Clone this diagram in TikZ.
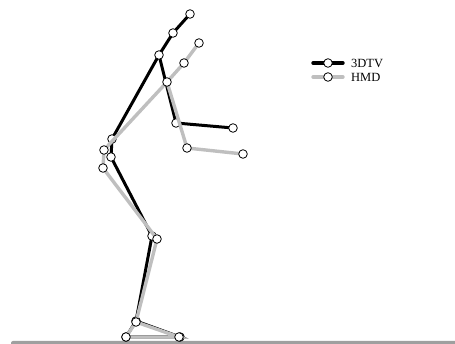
\documentclass[tikz,border=0pt]{standalone}
\usepackage{fontspec}
\setmainfont{Liberation Serif}
\begin{document}
\begin{tikzpicture}[x=1pt,y=-1pt,
  jt/.style={circle,draw=black,fill=white,line width=0.8pt,inner sep=0pt,minimum size=8.6pt},
  bk/.style={draw=black,line width=3pt,line cap=round},
  gy/.style={draw=gray!50,line width=3.4pt,line cap=round},
  lbl/.style={anchor=west,font=\fontsize{12.5}{14}\selectfont,inner sep=0pt}]
\useasboundingbox (0,0) rectangle (455,344);
% ground
\fill[gray!75,rounded corners=2pt] (11,341) rectangle (470,350);
% black skeleton (3DTV)
\coordinate (bH) at (190,14);
\coordinate (bN) at (173,33);
\coordinate (bS) at (159,55);
\coordinate (bE) at (176,123);
\coordinate (bW) at (233,128);
\coordinate (bP) at (112,139);
\coordinate (bQ) at (111,157);
\coordinate (bK) at (152,236);
\coordinate (bA) at (136,321);
\coordinate (bF) at (126,337);
\coordinate (bT) at (180,337);
\draw[bk] (bH)--(bN)--(bS)--(bE)--(bW);
\draw[bk] (bS)--(bP)--(bQ)--(bK)--(bA)--(bF)--(bT)--(bA);
\foreach \p in {bH,bN,bS,bE,bW,bP,bQ,bK,bA,bF,bT} \node[jt] at (\p) {};
% gray skeleton (HMD)
\coordinate (gH) at (199,43);
\coordinate (gN) at (184,63);
\coordinate (gS) at (167,82);
\coordinate (gE) at (187,148);
\coordinate (gW) at (243,154);
\coordinate (gP) at (104,150);
\coordinate (gQ) at (103,168);
\coordinate (gK) at (157,239);
\coordinate (gA) at (136,322);
\coordinate (gF) at (126,337);
\coordinate (gT) at (179,337);
\draw[gy] (gH)--(gN)--(gS)--(gE)--(gW);
\draw[gy] (gS)--(gP)--(gQ)--(gK)--(gA)--(gF)--(gT)--(gA);
\foreach \p in {gH,gN,gS,gE,gW,gP,gQ,gK,gA,gF,gT} \node[jt] at (\p) {};
% legend
\coordinate (l1a) at (313,63);
\coordinate (l1b) at (343,63);
\coordinate (l2a) at (313,77);
\coordinate (l2b) at (343,77);
\draw[bk,line width=3.4pt] (l1a)--(l1b);
\node[jt] (l1c) at (328,63) {};
\node[lbl] (t1) at (351,63) {3DTV};
\draw[gy] (l2a)--(l2b);
\node[jt] (l2c) at (328,77) {};
\node[lbl] (t2) at (351,77) {HMD};
\end{tikzpicture}
\end{document}
